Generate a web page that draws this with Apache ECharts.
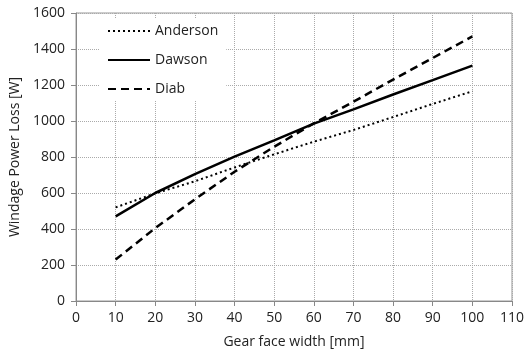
<!DOCTYPE html>
<html><head><meta charset="utf-8">
<script src="https://cdn.jsdelivr.net/npm/echarts@6/dist/echarts.min.js"></script>
<style>html,body{margin:0;padding:0;background:#fff}#c{width:527px;height:356px}</style>
</head><body><div id="c"></div>
<script>
const faceWidth = [10, 20, 30, 40, 50, 60, 70, 80, 90, 100];
const anderson = [520, 598, 665, 742, 815, 885, 950, 1022, 1095, 1165];
const dawson = [470, 600, 705, 802, 892, 985, 1065, 1147, 1227, 1308];
const diab = [230, 405, 565, 718, 857, 987, 1107, 1230, 1350, 1470];
const font = 'Open Sans';
const pair = a => faceWidth.map((x, i) => [x, a[i]]);
const chart = echarts.init(document.getElementById('c'));
chart.setOption({
  animation: false,
  grid: {left: 76, right: 15, top: 13, bottom: 55, show: true, borderColor: '#999', borderWidth: 1},
  legend: {
    orient: 'vertical', left: 100, top: 19, padding: [5, 8, 5, 7],
    backgroundColor: '#fff', itemWidth: 42, itemHeight: 14, itemGap: 15,
    itemStyle: {opacity: 0},
    textStyle: {fontFamily: font, fontSize: 14, color: '#222'},
    data: ['Anderson', 'Dawson', 'Diab']
  },
  xAxis: {
    type: 'value', min: 0, max: 110, interval: 10,
    name: 'Gear face width [mm]', nameLocation: 'middle', nameGap: 34,
    nameTextStyle: {fontFamily: font, fontSize: 14, color: '#222'},
    axisLine: {lineStyle: {color: '#888'}},
    axisTick: {show: true, length: 5, lineStyle: {color: '#888'}},
    axisLabel: {fontFamily: font, fontSize: 14, color: '#222', margin: 10},
    splitLine: {show: true, lineStyle: {type: 'dotted', color: '#aaa'}}
  },
  yAxis: {
    type: 'value', min: 0, max: 1600, interval: 200,
    name: 'Windage Power Loss [W]', nameLocation: 'middle', nameGap: 54,
    nameTextStyle: {fontFamily: font, fontSize: 14, color: '#222'},
    axisLine: {show: true, lineStyle: {color: '#888'}},
    axisTick: {show: true, length: 5, lineStyle: {color: '#888'}},
    axisLabel: {fontFamily: font, fontSize: 14, color: '#222', margin: 11, formatter: v => String(v)},
    splitLine: {show: true, lineStyle: {type: 'dotted', color: '#aaa'}}
  },
  series: [
    {name: 'Anderson', type: 'line', data: pair(anderson), symbol: 'none', z: 3,
     lineStyle: {color: '#000', width: 2, type: [2, 3]}, itemStyle: {color: '#000'}},
    {name: 'Dawson', type: 'line', data: pair(dawson), symbol: 'none', z: 3,
     lineStyle: {color: '#000', width: 2.5, type: 'solid'}, itemStyle: {color: '#000'}},
    {name: 'Diab', type: 'line', data: pair(diab), symbol: 'none', z: 3,
     lineStyle: {color: '#000', width: 2.5, type: [8, 5]}, itemStyle: {color: '#000'}}
  ]
});
</script></body></html>
